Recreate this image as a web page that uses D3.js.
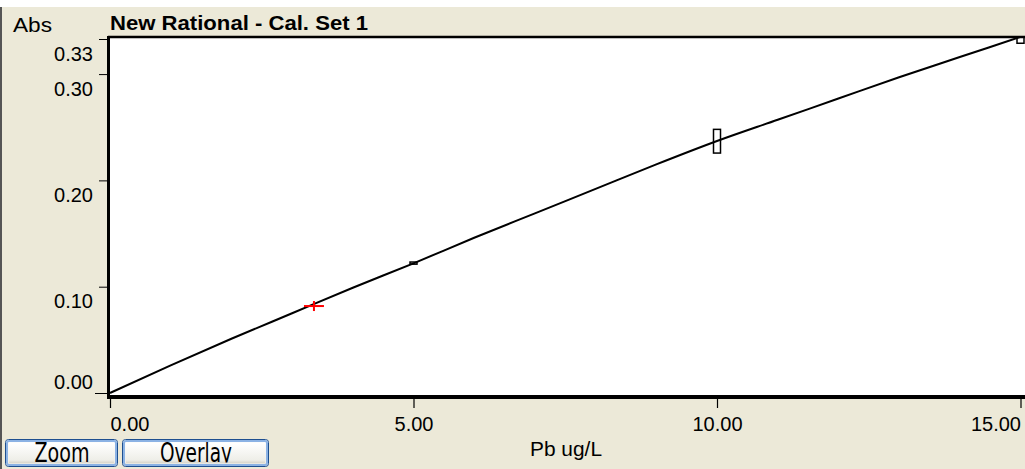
<!DOCTYPE html>
<html>
<head>
<meta charset="utf-8">
<script src="https://cdn.jsdelivr.net/npm/d3@7"></script>
<style>
html,body{margin:0;padding:0;background:#fff;}
svg{display:block;}
</style>
</head>
<body>
<svg id="chart" width="1025" height="469"></svg>
<script>
// ---- data ----
const curveX = [0, 1, 2, 3, 4, 5, 6, 7, 8, 9, 10, 11, 12, 13, 14, 15];
const curveY = [0, 0.026, 0.051, 0.075, 0.099, 0.122, 0.146, 0.169, 0.192, 0.215, 0.237, 0.257, 0.277, 0.297, 0.316, 0.335];
const stdX = [5, 10, 15];
const stdLow = [0.1212, 0.2257, 0.329];
const stdHigh = [0.1232, 0.248, 0.345];
const sampleX = [3.36];
const sampleY = [0.0818];
const yTicks = [0, 0.10, 0.20, 0.30, 0.333];
const xTicks = [0, 5, 10, 15];
const title = "New Rational - Cal. Set 1";
const yLabel = "Abs";
const xLabel = "Pb ug/L";
const buttons = ["Zoom", "Overlay"];

const svg = d3.select("#chart");
const W = 1025, H = 469;
const font = "'Liberation Sans', Arial, sans-serif";

// background
svg.append("rect").attr("x", 0).attr("y", 7).attr("width", W).attr("height", H - 7).attr("fill", "#ECE9D8");
svg.append("rect").attr("x", 0).attr("y", 7).attr("width", 2).attr("height", H - 7).attr("fill", "#555");

const x = d3.scaleLinear().domain([0, 15]).range([110, 1020.5]);
const y = d3.scaleLinear().domain([0, 0.333]).range([393, 39]);

// plot area
svg.append("rect").attr("x", 108).attr("y", 36).attr("width", W - 108).attr("height", 360).attr("fill", "#fff");

const defs = svg.append("defs");
defs.append("clipPath").attr("id", "plotclip").append("rect")
  .attr("x", 109).attr("y", 37).attr("width", W - 109).attr("height", 358);

const plot = svg.append("g").attr("clip-path", "url(#plotclip)");

const pts = curveX.map((v, i) => [v, curveY[i]]);
plot.append("path")
  .attr("d", d3.line().x(d => x(d[0])).y(d => y(d[1])).curve(d3.curveMonotoneX)(pts))
  .attr("fill", "none").attr("stroke", "#000").attr("stroke-width", 2);

// standards (boxes)
plot.selectAll("rect.std").data(stdX).join("rect").attr("class", "std")
  .attr("x", d => x(d) - 3.5)
  .attr("y", (d, i) => y(stdHigh[i]))
  .attr("width", 7)
  .attr("height", (d, i) => Math.max(1, y(stdLow[i]) - y(stdHigh[i])))
  .attr("fill", "none").attr("stroke", "#000").attr("stroke-width", 1.5);

// sample (red cross)
sampleX.forEach((v, i) => {
  const cx = x(v), cy = y(sampleY[i]);
  plot.append("line").attr("x1", cx - 10).attr("x2", cx + 10).attr("y1", cy).attr("y2", cy)
    .attr("stroke", "#f00").attr("stroke-width", 2);
  plot.append("line").attr("x1", cx).attr("x2", cx).attr("y1", cy - 5).attr("y2", cy + 5)
    .attr("stroke", "#f00").attr("stroke-width", 2);
});

// frame
svg.append("line").attr("x1", 108).attr("x2", W).attr("y1", 37).attr("y2", 37).attr("stroke", "#000").attr("stroke-width", 2.5);
svg.append("line").attr("x1", 108.5).attr("x2", 108.5).attr("y1", 36).attr("y2", 399).attr("stroke", "#000").attr("stroke-width", 3);
svg.append("line").attr("x1", 107).attr("x2", W).attr("y1", 397).attr("y2", 397).attr("stroke", "#000").attr("stroke-width", 4);

// y axis ticks
const yAxis = d3.axisLeft(y).tickValues(yTicks).tickSize(8).tickFormat(d3.format(".2f"));
const ya = svg.append("g").attr("transform", "translate(107,0)").call(yAxis);
ya.select(".domain").remove();
ya.selectAll(".tick line").attr("stroke", "#000").attr("stroke-width", 1)
  .attr("x2", d => d === 0 ? -12 : -8).attr("x1", d => d === 0 ? 3 : 0);
ya.selectAll(".tick text")
  .attr("x", -14).attr("dy", null)
  .attr("y", d => d === 0 ? -5 : 21)
  .attr("fill", "#000").attr("font-family", font).attr("font-size", 20);

// x axis ticks
const xAxis = d3.axisBottom(x).tickValues(xTicks).tickSize(9).tickFormat(d3.format(".2f"));
const xa = svg.append("g").attr("transform", "translate(0,399)").call(xAxis);
xa.select(".domain").remove();
xa.selectAll(".tick line").attr("stroke", "#000").attr("stroke-width", 1.2);
xa.selectAll(".tick text")
  .attr("y", 31.5).attr("dy", null)
  .attr("text-anchor", d => d === 0 ? "start" : (d === 15 ? "end" : "middle"))
  .attr("fill", "#000").attr("font-family", font).attr("font-size", 20);

// titles
svg.append("text").attr("x", 110).attr("y", 29.5).text(title)
  .attr("font-family", font).attr("font-weight", "bold").attr("font-size", 20)
  .attr("textLength", 258).attr("lengthAdjust", "spacingAndGlyphs").attr("fill", "#000");
svg.append("text").attr("x", 13).attr("y", 32).text(yLabel)
  .attr("font-family", font).attr("font-size", 20)
  .attr("textLength", 39).attr("lengthAdjust", "spacingAndGlyphs").attr("fill", "#000");
svg.append("text").attr("x", 530).attr("y", 456).text(xLabel)
  .attr("font-family", font).attr("font-size", 20)
  .attr("textLength", 72).attr("lengthAdjust", "spacingAndGlyphs").attr("fill", "#000");

// buttons
const grad = defs.append("linearGradient").attr("id", "btng").attr("x1", 0).attr("x2", 0).attr("y1", 0).attr("y2", 1);
grad.append("stop").attr("offset", "0%").attr("stop-color", "#ffffff");
grad.append("stop").attr("offset", "85%").attr("stop-color", "#eeeee8");
grad.append("stop").attr("offset", "100%").attr("stop-color", "#d8d6cc");
defs.append("clipPath").attr("id", "btnclip").append("rect").attr("x", 0).attr("y", 0).attr("width", W).attr("height", 462.5);

const btnData = [
  { label: buttons[0], x0: 5, w: 112, tl: 55 },
  { label: buttons[1], x0: 122, w: 146, tl: 72 }
];
const bg = svg.selectAll("g.btn").data(btnData).join("g").attr("class", "btn");
bg.append("rect").attr("x", d => d.x0 + 0.5).attr("y", 439.5).attr("width", d => d.w).attr("height", 27)
  .attr("rx", 3).attr("fill", "url(#btng)").attr("stroke", "#1e4f8f").attr("stroke-width", 1);
bg.append("rect").attr("x", d => d.x0 + 2).attr("y", 441).attr("width", d => d.w - 3).attr("height", 24)
  .attr("rx", 2).attr("fill", "none").attr("stroke", "#8bb2e4").attr("stroke-width", 2);
bg.append("rect").attr("x", d => d.x0 + 4).attr("y", 443).attr("width", d => d.w - 7).attr("height", 20)
  .attr("fill", "url(#btng)");
bg.append("text").attr("x", d => d.x0 + 1 + d.w / 2).attr("y", 462)
  .attr("text-anchor", "middle").text(d => d.label)
  .attr("clip-path", "url(#btnclip)")
  .attr("font-family", "'Liberation Sans Narrow', 'DejaVu Sans Condensed', sans-serif")
  .attr("font-size", 26)
  .attr("textLength", d => d.tl).attr("lengthAdjust", "spacingAndGlyphs")
  .attr("fill", "#000");
</script>
</body>
</html>
